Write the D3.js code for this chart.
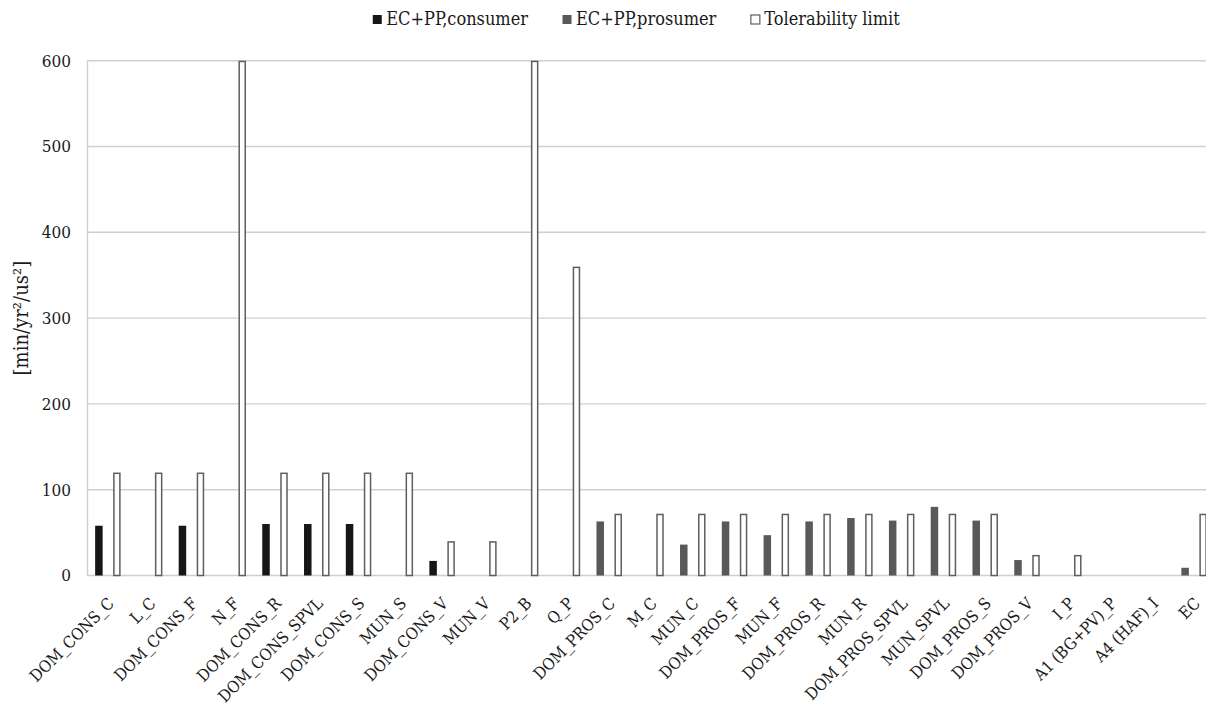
<!DOCTYPE html>
<html>
<head>
<meta charset="utf-8">
<script src="https://cdn.jsdelivr.net/npm/d3@7"></script>
<style>
  html, body { margin: 0; padding: 0; background: #ffffff; }
  svg { display: block; }
  text { font-family: "DejaVu Serif Condensed", "DejaVu Serif", serif; font-stretch: condensed; fill: #1a1a1a; }
</style>
</head>
<body>
<svg id="chart" width="1206" height="710"></svg>
<script>
const categories = ["DOM_CONS_C","L_C","DOM_CONS_F","N_F","DOM_CONS_R","DOM_CONS_SPVL","DOM_CONS_S","MUN_S","DOM_CONS_V","MUN_V","P2_B","Q_P","DOM_PROS_C","M_C","MUN_C","DOM_PROS_F","MUN_F","DOM_PROS_R","MUN_R","DOM_PROS_SPVL","MUN_SPVL","DOM_PROS_S","DOM_PROS_V","I_P","A1 (BG+PV)_P","A4 (HAF)_I","EC"];
const consumer = [58,null,58,null,60,60,60,null,17,null,null,null,null,null,null,null,null,null,null,null,null,null,null,null,null,null,null];
const prosumer = [null,null,null,null,null,null,null,null,null,null,null,null,63,null,36,63,47,63,67,64,80,64,18,null,null,null,9];
const tolerability = [120,120,120,600,120,120,120,120,40,40,600,360,72,72,72,72,72,72,72,72,72,72,24,24,null,null,72];
const seriesNames = ["EC+PP,consumer","EC+PP,prosumer","Tolerability limit"];
const yTicks = [0,100,200,300,400,500,600];

const svg = d3.select("#chart");
const W = 1206, H = 710;
const plot = {left: 87, right: 1215, top: 60.7, bottom: 575.5};

const x0 = d3.scaleBand().domain(categories).range([plot.left, plot.right]).padding(0);
const slots = ["ecpp", "tol"];
const x1 = d3.scaleBand().domain(slots)
  .range([x0.bandwidth()/2 - 12.75, x0.bandwidth()/2 + 12.75])
  .paddingInner(0.583).paddingOuter(0);
const y = d3.scaleLinear().domain([0, 600]).range([plot.bottom, plot.top]);

const colors = {consumer: "#161616", prosumer: "#595959", tolStroke: "#5e5e5e"};

// gridlines
svg.append("g").selectAll("line").data(yTicks.filter(d => d > 0)).join("line")
  .attr("x1", plot.left).attr("x2", W)
  .attr("y1", d => y(d)).attr("y2", d => y(d))
  .attr("stroke", "#cfcfcf").attr("stroke-width", 1.4);

// y axis (labels only)
const yAxis = d3.axisLeft(y).tickValues(yTicks).tickSize(0).tickPadding(16);
const gy = svg.append("g").attr("transform", `translate(${plot.left},0)`).call(yAxis);
gy.select(".domain").attr("stroke", "#cfcfcf").attr("stroke-width", 1.4);
gy.selectAll("text").style("font-size", "17px").style("font-family", null).attr("fill", "#1a1a1a");

// baseline
svg.append("line").attr("x1", plot.left).attr("x2", W)
  .attr("y1", y(0)).attr("y2", y(0)).attr("stroke", "#cfcfcf").attr("stroke-width", 1.4);

// bars
const bars = svg.append("g");
categories.forEach((c, i) => {
  const g = bars.append("g").attr("transform", `translate(${x0(c)},0)`);
  if (consumer[i] != null) {
    g.append("rect").attr("x", x1("ecpp")).attr("width", x1.bandwidth())
      .attr("y", y(consumer[i])).attr("height", y(0) - y(consumer[i]))
      .attr("fill", colors.consumer);
  }
  if (prosumer[i] != null) {
    g.append("rect").attr("x", x1("ecpp")).attr("width", x1.bandwidth())
      .attr("y", y(prosumer[i])).attr("height", y(0) - y(prosumer[i]))
      .attr("fill", colors.prosumer);
  }
  if (tolerability[i] != null) {
    g.append("rect").attr("x", x1("tol") + 0.75).attr("width", x1.bandwidth() - 1.5)
      .attr("y", y(tolerability[i]) + 0.75).attr("height", y(0) - y(tolerability[i]) - 0.75)
      .attr("fill", "#ffffff").attr("stroke", colors.tolStroke).attr("stroke-width", 1.5);
  }
});

// x labels
const xAxis = d3.axisBottom(x0).tickSize(0).tickPadding(0);
const gx = svg.append("g").attr("transform", `translate(0,${plot.bottom})`).call(xAxis);
gx.select(".domain").remove();
gx.selectAll(".tick text")
  .style("font-size", "16.3px").style("font-family", null).attr("fill", "#1a1a1a")
  .attr("text-anchor", "end")
  .attr("dy", null).attr("y", 0)
  .attr("transform", "translate(7,29) rotate(-45)");

// y title
svg.append("text")
  .attr("transform", `translate(28,${(plot.top + plot.bottom)/2}) rotate(-90)`)
  .attr("text-anchor", "middle")
  .style("font-size", "20px")
  .text("[min/yr²/us²]");

// legend
const legend = svg.append("g");
const legendItems = [
  {name: seriesNames[0], fill: colors.consumer, stroke: "none"},
  {name: seriesNames[1], fill: colors.prosumer, stroke: "none"},
  {name: seriesNames[2], fill: "#ffffff", stroke: colors.tolStroke}
];
let lx = 0;
const ly = 20;
legendItems.forEach((it, i) => {
  const g = legend.append("g").attr("transform", `translate(${lx},0)`);
  g.append("rect").attr("x", 0.5).attr("y", ly - 5).attr("width", 9).attr("height", 9)
    .attr("fill", it.fill).attr("stroke", it.stroke).attr("stroke-width", 1.2);
  const t = g.append("text").attr("x", 14).attr("y", ly + 5).style("font-size", "18px").text(it.name);
  const w = t.node().getComputedTextLength();
  lx += 14 + w + 34;
});
const totalW = lx - 34;
legend.attr("transform", `translate(${636 - totalW/2},0)`);
</script>
</body>
</html>
